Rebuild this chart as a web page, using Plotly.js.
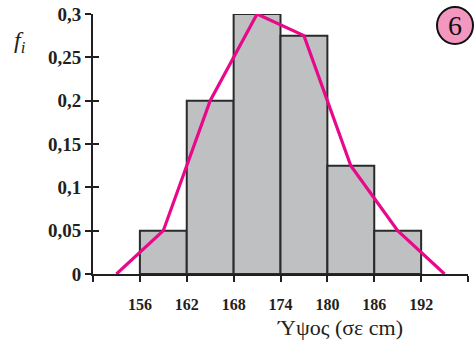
<!DOCTYPE html>
<html>
<head>
<meta charset="utf-8">
<script src="https://cdn.plot.ly/plotly-3.0.1.min.js"></script>
<style>
html,body{margin:0;padding:0;background:#fff;}
#chart{width:476px;height:346px;}
#chart text{font-family:'Liberation Serif','Times New Roman',serif !important;}
</style>
</head>
<body>
<div id="chart"></div>
<script>
// Class midpoints and relative frequencies f_i
const classMid = [159, 165, 171, 177, 183, 189];
const relFreq = [0.05, 0.2, 0.3, 0.275, 0.125, 0.05];
// Frequency polygon
const polyX = [153, 159, 165, 171, 177, 183, 189, 195];
const polyY = [0, 0.05, 0.2, 0.3, 0.275, 0.125, 0.05, 0];
// Tick labels
const xTickVals = [156, 162, 168, 174, 180, 186, 192];
const xTickText = ['156', '162', '168', '174', '180', '186', '192'];
const xExtraTicks = [150, 198];
const yTickVals = [0, 0.05, 0.1, 0.15, 0.2, 0.25, 0.3];
const yTickText = ['0', '0,05', '0,1', '0,15', '0,2', '0,25', '0,3'];

const serif = 'Liberation Serif';

const traces = [
  {type: 'bar', x: classMid, y: relFreq, width: 6,
   marker: {color: '#bfc0c2', line: {color: '#2a2a2a', width: 2}},
   hoverinfo: 'skip', showlegend: false},
  {type: 'scatter', mode: 'lines', x: polyX, y: polyY,
   line: {color: '#e8098a', width: 3.2},
   hoverinfo: 'skip', showlegend: false, cliponaxis: false},
  {type: 'scatter', mode: 'none', x: [150], y: [0], yaxis: 'y2',
   hoverinfo: 'skip', showlegend: false}
];

const layout = {
  width: 476, height: 346,
  margin: {l: 93, r: 8, t: 14, b: 72},
  paper_bgcolor: '#fff', plot_bgcolor: '#fff',
  separators: ', ', showlegend: false,
  font: {family: serif},
  xaxis: {
    range: [150, 198], showgrid: false, zeroline: false,
    showline: true, linecolor: '#231f20', linewidth: 2,
    tickmode: 'array', tickvals: xTickVals, ticktext: xTickText,
    ticks: 'outside', ticklen: 6, tickwidth: 2, tickcolor: '#231f20',
    minor: {tickmode: 'array', tickvals: xExtraTicks, ticks: 'outside',
            ticklen: 6, tickwidth: 2, tickcolor: '#231f20', showgrid: false},
    ticklabelstandoff: 9,
    tickfont: {family: serif, size: 16, color: '#231f20', weight: 'bold'}
  },
  yaxis: {
    range: [0, 0.3], showgrid: false, zeroline: false,
    showline: true, linecolor: '#231f20', linewidth: 2,
    tickmode: 'array', tickvals: yTickVals, ticktext: yTickText,
    ticks: 'outside', ticklen: 6, tickwidth: 2, tickcolor: '#231f20',
    tickfont: {family: serif, size: 19, color: '#231f20', weight: 'bold'}
  },
  yaxis2: {
    overlaying: 'y', range: [0, 0.3], showgrid: false, zeroline: false,
    showline: false, showticklabels: false,
    tickmode: 'array', tickvals: yTickVals,
    ticks: 'inside', ticklen: 6, tickwidth: 2, tickcolor: '#231f20'
  },
  shapes: [
    {type: 'circle', xref: 'paper', yref: 'paper',
     x0: (437 - 93) / 375, x1: (473 - 93) / 375,
     y0: (274 - 44) / 260, y1: (274 - 7) / 260,
     fillcolor: '#f497c0', line: {color: '#111', width: 2}}
  ],
  annotations: [
    {xref: 'paper', yref: 'paper', x: (455 - 93) / 375, y: (274 - 26) / 260,
     text: '6', showarrow: false, xanchor: 'center', yanchor: 'middle',
     font: {family: serif, size: 28, color: '#111'}},
    {xref: 'paper', yref: 'paper', x: (20 - 93) / 375, y: (274 - 42) / 260,
     text: '<i>f<sub>i</sub></i>', showarrow: false, xanchor: 'center', yanchor: 'middle',
     font: {family: serif, size: 24, color: '#231f20'}},
    {xref: 'paper', yref: 'paper', x: (340 - 93) / 375, y: (274 - 327) / 260,
     text: 'Ύψος (σε cm)', showarrow: false, xanchor: 'center', yanchor: 'middle',
     font: {family: serif, size: 22, color: '#231f20'}}
  ]
};

Plotly.newPlot('chart', traces, layout, {staticPlot: true, displayModeBar: false});
</script>
</body>
</html>
